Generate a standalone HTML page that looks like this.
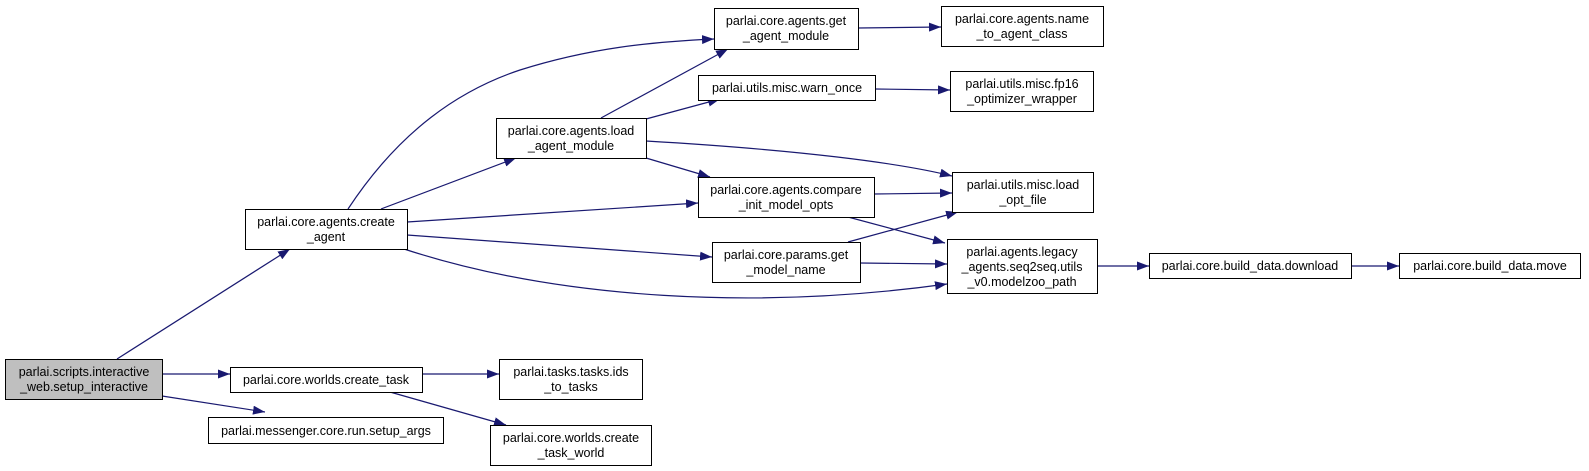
<!DOCTYPE html>
<html><head><meta charset="utf-8"><style>
html,body{margin:0;padding:0;background:#fff;}
svg{display:block;}
text{font-family:"Liberation Sans",sans-serif;font-size:12.5px;fill:#000;}
</style></head><body>
<svg width="1589" height="471" viewBox="0 0 1589 471" xmlns="http://www.w3.org/2000/svg">
<defs>
<marker id="a" markerWidth="12" markerHeight="9" refX="12" refY="4.5" orient="auto" markerUnits="userSpaceOnUse">
<path d="M0,0 L12,4.5 L0,9 Z" fill="#191970"/>
</marker>
</defs>
<g fill="none" stroke="#191970" stroke-width="1.2" marker-end="url(#a)">
<path d="M117,359 L290,249"/>
<path d="M162,374 L230,374"/>
<path d="M162,396 L265,412"/>
<path d="M348,209 C400,130 460,90 520,70 C590,48 650,42 714,39"/>
<path d="M381,209 L516,158"/>
<path d="M407,222 L698,203"/>
<path d="M407,235 L712,257"/>
<path d="M404,249 C560,300 760,310 947,284"/>
<path d="M601,118 L728,49"/>
<path d="M646,119 L720,99"/>
<path d="M646,141 C800,150 900,163 952,176"/>
<path d="M646,158 L710,177"/>
<path d="M874,194 L952,193"/>
<path d="M848,217 L945,243"/>
<path d="M848,242 L958,212"/>
<path d="M860,263 L947,264"/>
<path d="M858,28 L941,27"/>
<path d="M875,89 L950,90"/>
<path d="M1097,266 L1149,266"/>
<path d="M1351,266 L1399,266"/>
<path d="M422,374 L499,374"/>
<path d="M390,392 L506,425"/>
</g>
<g stroke="#000" stroke-width="1" fill="#fff">
<rect x="5.5" y="359.5" width="157" height="40" fill="#bfbfbf"/>
<rect x="245.5" y="209.5" width="162" height="40"/>
<rect x="496.5" y="118.5" width="150" height="40"/>
<rect x="714.5" y="8.5" width="144" height="41"/>
<rect x="698.5" y="75.5" width="177" height="25"/>
<rect x="698.5" y="177.5" width="176" height="40"/>
<rect x="712.5" y="242.5" width="148" height="40"/>
<rect x="230.5" y="367.5" width="192" height="25"/>
<rect x="208.5" y="417.5" width="235" height="26"/>
<rect x="499.5" y="359.5" width="143" height="40"/>
<rect x="490.5" y="425.5" width="161" height="40"/>
<rect x="941.5" y="6.5" width="162" height="40"/>
<rect x="950.5" y="71.5" width="143" height="40"/>
<rect x="952.5" y="172.5" width="141" height="40"/>
<rect x="947.5" y="239.5" width="150" height="54"/>
<rect x="1149.5" y="253.5" width="202" height="25"/>
<rect x="1399.5" y="253.5" width="181" height="25"/>
</g>
<g text-anchor="middle">
<text x="84" y="376">parlai.scripts.interactive</text><text x="84" y="391">_web.setup_interactive</text>
<text x="326" y="226">parlai.core.agents.create</text><text x="326" y="241">_agent</text>
<text x="571" y="135">parlai.core.agents.load</text><text x="571" y="150">_agent_module</text>
<text x="786" y="25">parlai.core.agents.get</text><text x="786" y="40">_agent_module</text>
<text x="787" y="92">parlai.utils.misc.warn_once</text>
<text x="786" y="194">parlai.core.agents.compare</text><text x="786" y="209">_init_model_opts</text>
<text x="786" y="259">parlai.core.params.get</text><text x="786" y="274">_model_name</text>
<text x="326" y="384">parlai.core.worlds.create_task</text>
<text x="326" y="435">parlai.messenger.core.run.setup_args</text>
<text x="571" y="376">parlai.tasks.tasks.ids</text><text x="571" y="391">_to_tasks</text>
<text x="571" y="442">parlai.core.worlds.create</text><text x="571" y="457">_task_world</text>
<text x="1022" y="23">parlai.core.agents.name</text><text x="1022" y="38">_to_agent_class</text>
<text x="1022" y="88">parlai.utils.misc.fp16</text><text x="1022" y="103">_optimizer_wrapper</text>
<text x="1023" y="189">parlai.utils.misc.load</text><text x="1023" y="204">_opt_file</text>
<text x="1022" y="256">parlai.agents.legacy</text><text x="1022" y="271">_agents.seq2seq.utils</text><text x="1022" y="286">_v0.modelzoo_path</text>
<text x="1250" y="270">parlai.core.build_data.download</text>
<text x="1490" y="270">parlai.core.build_data.move</text>
</g>
</svg>
</body></html>
